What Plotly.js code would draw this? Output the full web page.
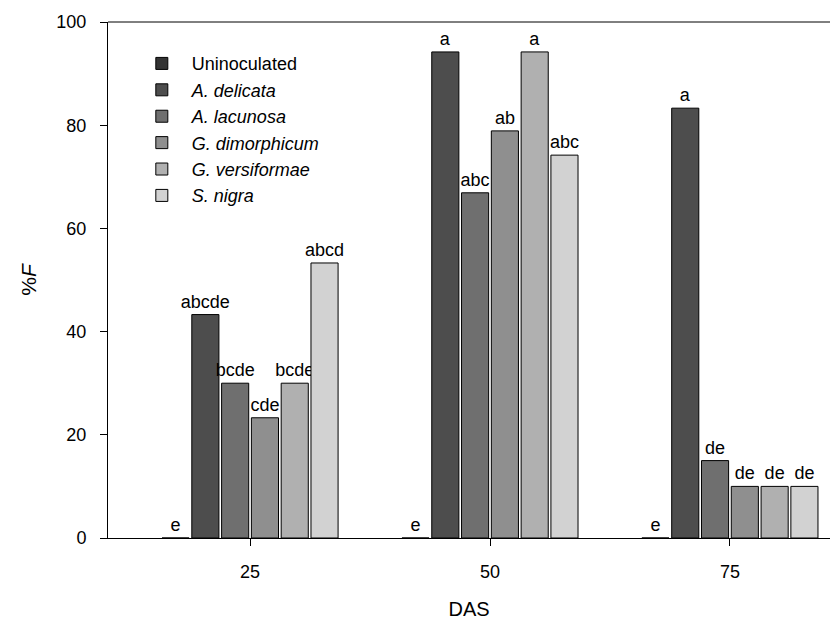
<!DOCTYPE html>
<html>
<head>
<meta charset="utf-8">
<script src="https://cdn.plot.ly/plotly-3.0.1.min.js"></script>
<style>html,body{margin:0;padding:0;background:#fff;}#chart{width:830px;height:622px;}</style>
</head>
<body>
<div id="chart"></div>
<script>
const days = ["25", "50", "75"];
const seriesNames = ["Uninoculated", "<i>A. delicata</i>", "<i>A. lacunosa</i>", "<i>G. dimorphicum</i>", "<i>G. versiformae</i>", "<i>S. nigra</i>"];
const uninoculated = [0, 0, 0];
const aDelicata = [43.3, 94.2, 83.3];
const aLacunosa = [30, 66.9, 15];
const gDimorphicum = [23.3, 78.9, 10];
const gVersiformae = [30, 94.2, 10];
const sNigra = [53.3, 74.2, 10];
const labUninoculated = ["e", "e", "e"];
const labDelicata = ["abcde", "a", "a"];
const labLacunosa = ["bcde", "abc", "de"];
const labDimorphicum = ["cde", "ab", "de"];
const labVersiformae = ["bcde", "a", "de"];
const labNigra = ["abcd", "abc", "de"];
const colors = ["#333333", "#4d4d4d", "#6f6f6f", "#8f8f8f", "#b0b0b0", "#d2d2d2"];

const values = [uninoculated, aDelicata, aLacunosa, gDimorphicum, gVersiformae, sNigra];
const labels = [labUninoculated, labDelicata, labLacunosa, labDimorphicum, labVersiformae, labNigra];

const font = "Liberation Sans, Arial, sans-serif";
const traces = values.map((v, i) => ({
  type: "bar",
  name: seriesNames[i],
  x: days,
  y: v,
  text: labels[i],
  textposition: "outside",
  constraintext: "none",
  cliponaxis: false,
  outsidetextfont: {family: font, size: 18, color: "#000"},
  marker: {color: colors[i], line: {color: "#000", width: 1}},
  hoverinfo: "none"
}));

const layout = {
  width: 830, height: 622,
  margin: {l: 108, r: 0, t: 22, b: 84},
  paper_bgcolor: "#fff", plot_bgcolor: "#fff",
  barmode: "group",
  bargap: 0.255,
  bargroupgap: 0.09,
  showlegend: true,
  legend: {
    x: 0.033, y: 0.955, xanchor: "left", yanchor: "top",
    font: {family: font, size: 18, color: "#000"},
    bgcolor: "rgba(0,0,0,0)", tracegroupgap: 0, itemwidth: 50
  },
  xaxis: {
    type: "category",
    range: [-0.592, 2.417],
    showline: true, linecolor: "#000", linewidth: 1, mirror: false,
    ticks: "outside", ticklen: 7, tickcolor: "#000",
    ticklabelstandoff: 10,
    tickfont: {family: font, size: 18, color: "#000"},
    title: {text: "DAS", font: {family: font, size: 20, color: "#000"}, standoff: 21},
    showgrid: false, zeroline: false
  },
  yaxis: {
    range: [0, 100],
    tickvals: [0, 20, 40, 60, 80, 100],
    showline: true, linecolor: "#000", linewidth: 1,
    ticks: "outside", ticklen: 7, tickcolor: "#000",
    ticklabelstandoff: 10,
    tickfont: {family: font, size: 18, color: "#000"},
    title: {text: "%<i>F</i>", font: {family: font, size: 21, color: "#000"}, standoff: 14},
    showgrid: false, zeroline: false
  },
  shapes: [
    {type: "line", xref: "paper", yref: "paper", x0: 0, x1: 1, y0: 1, y1: 1, line: {color: "#000", width: 1}}
  ]
};

Plotly.newPlot("chart", traces, layout, {displayModeBar: false, staticPlot: true});
</script>
</body>
</html>
